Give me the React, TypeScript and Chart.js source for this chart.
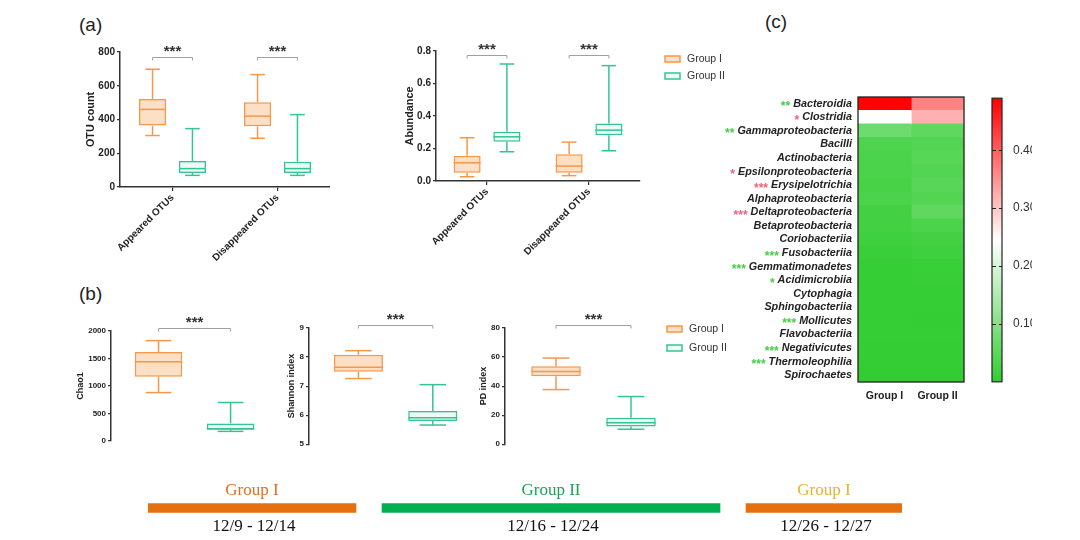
import React, { useEffect, useRef } from 'react';
import { Chart, registerables } from 'chart.js';

Chart.register(...registerables);

const SANS = '"Liberation Sans", Arial, sans-serif';
const SERIF = '"Liberation Serif", "Times New Roman", serif';
Chart.defaults.font.family = SANS;
Chart.defaults.color = '#222';

// ---------------- data ----------------
const groupNames = ['Group I', 'Group II'];

// panel (a): [min, q1, median, q3, max]
const otuCategories = ['Appeared OTUs', 'Disappeared OTUs'];
const otuGroupI = [[305, 364, 460, 522, 698], [289, 360, 420, 502, 666]];
const otuGroupII = [[69, 83, 109, 154, 346], [69, 83, 109, 150, 429]];
const otuSignificance = ['***', '***'];
const otuTicks = { min: 0, max: 800, step: 200 };

const abundanceGroupI = [[0.026, 0.051, 0.112, 0.155, 0.266], [0.033, 0.051, 0.092, 0.164, 0.239]];
const abundanceGroupII = [[0.18, 0.241, 0.272, 0.303, 0.72], [0.186, 0.281, 0.313, 0.354, 0.71]];
const abundanceSignificance = ['***', '***'];
const abundanceTicks = { min: 0, max: 0.8, step: 0.2 };

// panel (b): per group [min, q1, median, q3, max]
const chao1Stats = [[880, 1170, 1440, 1620, 1825], [175, 205, 225, 320, 700]];
const shannonStats = [[7.26, 7.49, 7.65, 8.08, 8.22], [5.66, 5.8, 5.91, 6.14, 7.05]];
const pdStats = [[37.6, 46.7, 50.1, 53.6, 59.3], [10.3, 12.1, 14.8, 18.2, 32.8]];
const alphaSignificance = '***';
const chao1Ticks = { min: 0, max: 2000, step: 500 };
const shannonTicks = { min: 5, max: 9, step: 1 };
const pdTicks = { min: 0, max: 80, step: 20 };

// panel (c): heatmap
const heatClasses = [
  'Bacteroidia', 'Clostridia', 'Gammaproteobacteria', 'Bacilli', 'Actinobacteria',
  'Epsilonproteobacteria', 'Erysipelotrichia', 'Alphaproteobacteria', 'Deltaproteobacteria',
  'Betaproteobacteria', 'Coriobacteriia', 'Fusobacteriia', 'Gemmatimonadetes', 'Acidimicrobiia',
  'Cytophagia', 'Sphingobacteriia', 'Mollicutes', 'Flavobacteriia', 'Negativicutes',
  'Thermoleophilia', 'Spirochaetes',
];
const heatGroupI = [0.488, 0.245, 0.07, 0.035, 0.03, 0.03, 0.025, 0.03, 0.02, 0.02, 0.015, 0.01, 0.005, 0.004, 0.004, 0.003, 0.003, 0.003, 0.002, 0.002, 0.001];
const heatGroupII = [0.365, 0.32, 0.055, 0.04, 0.045, 0.04, 0.045, 0.04, 0.055, 0.03, 0.02, 0.015, 0.008, 0.006, 0.004, 0.003, 0.002, 0.003, 0.002, 0.002, 0.001];
const heatStars = ['**', '*', '**', '', '', '*', '***', '', '***', '', '', '***', '***', '*', '', '', '***', '', '***', '***', ''];
const heatStarKind = ['g', 'r', 'g', '', '', 'r', 'r', '', 'r', '', '', 'g', 'g', 'g', '', '', 'g', '', 'g', 'g', ''];
const colorbarMax = 0.49;
const colorbarTicks = [0.1, 0.2, 0.3, 0.4];

// timeline
const periodNames = ['Group I', 'Group II', 'Group I'];
const periodDates = ['12/9 - 12/14', '12/16 - 12/24', '12/26 - 12/27'];
const periodSpans = [[0, 8], [9, 22], [23, 29]];

// ---------------- styles ----------------
const ORANGE = 'rgb(246,152,72)';
const ORANGE_FILL = 'rgba(250,196,150,0.55)';
const GREEN = 'rgb(52,196,148)';
const GREEN_FILL = 'rgba(225,247,238,0.6)';
const AXIS = '#333';
const TXT = '#222';
const periodBarColors = ['#E4700F', '#00B050', '#E4700F'];
const periodTextColors = ['#E07020', '#1FA055', '#E3B43A'];
const starColors: Record<string, string> = { g: '#48cc48', r: '#f0607a' };
const HEAT_LOW = [50, 205, 50];
const HEAT_MID = [255, 255, 255];
const HEAT_HIGH = [255, 0, 0];

function heatColor(v: number) {
  const mid = colorbarMax / 2;
  let a, b, t;
  if (v <= mid) { a = HEAT_LOW; b = HEAT_MID; t = v / mid; } else { a = HEAT_MID; b = HEAT_HIGH; t = (v - mid) / mid; }
  t = Math.max(0, Math.min(1, t));
  const c = a.map((x, i) => Math.round(x + (b[i] - x) * t));
  return `rgb(${c[0]},${c[1]},${c[2]})`;
}

// ---------------- plugins ----------------
const boxWhiskerPlugin = {
  id: 'boxWhisker',
  afterDatasetsDraw(chart: any) {
    const ctx = chart.ctx;
    const ys = chart.scales.y;
    const py = (v: number) => ys.getPixelForValue(v);
    chart.data.datasets.forEach((ds: any, di: number) => {
      if (!ds.stats) return;
      const meta = chart.getDatasetMeta(di);
      meta.data.forEach((el: any, j: number) => {
        const s = ds.stats[j];
        if (!s) return;
        const { x, width } = el.getProps(['x', 'width'], true);
        const color = Array.isArray(ds.borderColor) ? ds.borderColor[j] : ds.borderColor;
        const half = width / 2;
        const cap = width * 0.27;
        ctx.save();
        ctx.strokeStyle = color;
        ctx.lineWidth = 1.5;
        const line = (x1: number, y1: number, x2: number, y2: number) => {
          ctx.beginPath(); ctx.moveTo(x1, y1); ctx.lineTo(x2, y2); ctx.stroke();
        };
        line(x - half, py(s[2]), x + half, py(s[2]));
        line(x, py(s[3]), x, py(s[4]));
        line(x - cap, py(s[4]), x + cap, py(s[4]));
        line(x, py(s[1]), x, py(s[0]));
        line(x - cap, py(s[0]), x + cap, py(s[0]));
        ctx.restore();
      });
    });
  },
};

function makeBracketPlugin(level: number, items: { from: number[]; to: number[]; text: string }[]) {
  return {
    id: 'brackets',
    afterDatasetsDraw(chart: any) {
      const ctx = chart.ctx;
      const yb = Math.round(chart.scales.y.getPixelForValue(level)) + 0.5;
      items.forEach((it) => {
        const a = chart.getDatasetMeta(it.from[0]).data[it.from[1]];
        const b = chart.getDatasetMeta(it.to[0]).data[it.to[1]];
        if (!a || !b) return;
        const x1 = a.x, x2 = b.x;
        ctx.save();
        ctx.strokeStyle = '#a0a0a0';
        ctx.lineWidth = 1;
        ctx.beginPath();
        ctx.moveTo(x1, yb + 3); ctx.lineTo(x1, yb); ctx.lineTo(x2, yb); ctx.lineTo(x2, yb + 3);
        ctx.stroke();
        ctx.fillStyle = '#333';
        ctx.font = `bold 15px ${SANS}`;
        ctx.textAlign = 'center';
        ctx.textBaseline = 'alphabetic';
        ctx.fillText(it.text, (x1 + x2) / 2, yb - 1.5);
        ctx.restore();
      });
    },
  };
}

function makeLegendPlugin(dx: number, dy: number, gap: number) {
  const items = [
    { label: groupNames[0], fill: ORANGE_FILL, stroke: ORANGE },
    { label: groupNames[1], fill: GREEN_FILL, stroke: GREEN },
  ];
  return {
    id: 'boxLegend',
    afterDraw(chart: any) {
      const ctx = chart.ctx;
      const area = chart.chartArea;
      items.forEach((it, i) => {
        const x0 = area.right + dx;
        const yc = area.top + dy + i * gap;
        ctx.save();
        ctx.fillStyle = '#fff';
        ctx.fillRect(x0, yc - 3, 15, 6);
        ctx.fillStyle = it.fill;
        ctx.fillRect(x0, yc - 3, 15, 6);
        ctx.strokeStyle = it.stroke;
        ctx.lineWidth = 1.5;
        ctx.strokeRect(x0, yc - 3, 15, 6);
        ctx.fillStyle = '#333';
        ctx.font = `10.5px ${SANS}`;
        ctx.textAlign = 'left';
        ctx.textBaseline = 'middle';
        ctx.fillText(it.label, x0 + 22, yc);
        ctx.restore();
      });
    },
  };
}

const baseOptions = {
  responsive: false,
  animation: false,
  devicePixelRatio: 1,
  events: [],
};

function yAxis(t: { min: number; max: number; step: number }, title: string, width: number, tickSize: number, titleSize: number, fmt: (v: number) => string) {
  return {
    min: t.min,
    max: t.max,
    ticks: {
      stepSize: t.step,
      font: { size: tickSize, weight: 'bold' },
      color: TXT,
      padding: 2,
      callback: (v: any) => fmt(Number(v)),
    },
    grid: { drawOnChartArea: false, tickLength: 3, color: AXIS, lineWidth: 1.2 },
    border: { color: AXIS, width: 1.5 },
    title: { display: true, text: title, font: { size: titleSize, weight: 'bold' }, color: TXT, padding: 4 },
    afterFit: (s: any) => { s.width = width; },
  };
}

const plainNumber = (v: number) => String(v);

function groupedBoxConfig(p: any) {
  const mk = (label: string, stats: number[][], border: string, fill: string) => ({
    label,
    data: stats.map((s) => [s[1], s[3]]),
    stats,
    backgroundColor: fill,
    borderColor: border,
    borderWidth: 1.5,
    borderSkipped: false,
    barPercentage: 0.68,
    categoryPercentage: p.catPct,
  });
  const plugins: any[] = [
    boxWhiskerPlugin,
    makeBracketPlugin(p.bracketLevel, p.sig.map((t: string, j: number) => ({ from: [0, j], to: [1, j], text: t }))),
  ];
  if (p.legend) plugins.push(makeLegendPlugin(p.legend[0], p.legend[1], p.legend[2]));
  return {
    type: 'bar',
    data: {
      labels: p.categories,
      datasets: [mk(groupNames[0], p.g1, ORANGE, ORANGE_FILL), mk(groupNames[1], p.g2, GREEN, GREEN_FILL)],
    },
    options: {
      ...baseOptions,
      layout: { padding: p.padding },
      plugins: { legend: { display: false }, tooltip: { enabled: false } },
      scales: {
        x: {
          offset: true,
          grid: { offset: false, drawOnChartArea: false, tickLength: 4, color: AXIS, lineWidth: 1.2 },
          border: { color: AXIS, width: 1.5 },
          ticks: { minRotation: 45, maxRotation: 45, autoSkip: false, font: { size: 10, weight: 'bold' }, color: TXT, padding: 1 },
          afterFit: (s: any) => { s.height = p.xHeight; },
        },
        y: yAxis(p.ticks, p.title, p.yWidth, 10, 10.8, p.fmt || plainNumber),
      },
    },
    plugins,
  };
}

function singleBoxConfig(p: any) {
  const plugins: any[] = [
    boxWhiskerPlugin,
    makeBracketPlugin(p.bracketLevel, [{ from: [0, 0], to: [0, 1], text: alphaSignificance }]),
  ];
  if (p.legend) plugins.push(makeLegendPlugin(p.legend[0], p.legend[1], p.legend[2]));
  return {
    type: 'bar',
    data: {
      datasets: [{
        label: p.title,
        data: p.stats.map((s: number[], i: number) => ({ x: i + 1, y: [s[1], s[3]] })),
        stats: p.stats,
        backgroundColor: [ORANGE_FILL, GREEN_FILL],
        borderColor: [ORANGE, GREEN],
        borderWidth: 1.5,
        borderSkipped: false,
        barPercentage: 0.66,
        categoryPercentage: 1,
      }],
    },
    options: {
      ...baseOptions,
      layout: { padding: p.padding },
      plugins: { legend: { display: false }, tooltip: { enabled: false } },
      scales: {
        x: {
          type: 'linear',
          min: p.xMin,
          max: p.xMax,
          offset: false,
          grid: { offset: false },
          display: false,
          afterBuildTicks: (s: any) => { s.ticks = p.stats.map((_: any, i: number) => ({ value: i + 1 })); },
        },
        y: yAxis(p.ticks, p.title, p.yWidth, 8, 9, p.fmt || plainNumber),
      },
    },
    plugins,
  };
}

function heatmapConfig() {
  const cols = [heatGroupI, heatGroupII];
  const starPlugin = {
    id: 'heatStars',
    afterDraw(chart: any) {
      const ctx = chart.ctx;
      const ys = chart.scales.y;
      const area = chart.chartArea;
      ctx.save();
      ctx.strokeStyle = '#222';
      ctx.lineWidth = 1.3;
      ctx.strokeRect(area.left, area.top, area.right - area.left, area.bottom - area.top);
      heatClasses.forEach((name, i) => {
        if (!heatStars[i]) return;
        const yy = ys.getPixelForValue(i);
        ctx.font = `italic bold 10.8px ${SANS}`;
        const w = ctx.measureText(name).width;
        const x = ys.right - 6 - w - 3;
        ctx.font = `bold 12px ${SANS}`;
        ctx.fillStyle = starColors[heatStarKind[i]];
        ctx.textAlign = 'right';
        ctx.textBaseline = 'alphabetic';
        ctx.fillText(heatStars[i], x, yy + 6.5);
      });
      ctx.restore();
    },
  };
  return {
    type: 'bar',
    data: {
      labels: heatClasses,
      datasets: cols.map((vals, ci) => ({
        label: groupNames[ci],
        data: vals.map(() => [ci, ci + 1]),
        backgroundColor: vals.map(heatColor),
        borderWidth: 0,
        barPercentage: 1,
        categoryPercentage: 1,
        grouped: false,
        inflateAmount: 0.6,
      })),
    },
    options: {
      ...baseOptions,
      indexAxis: 'y',
      layout: { padding: { top: 17, right: 6, left: 0, bottom: 0 } },
      plugins: { legend: { display: false }, tooltip: { enabled: false } },
      scales: {
        x: {
          type: 'linear',
          min: 0,
          max: groupNames.length,
          grid: { display: false, drawTicks: false },
          border: { display: false },
          afterBuildTicks: (s: any) => { s.ticks = groupNames.map((_, i) => ({ value: i + 0.5 })); },
          ticks: { autoSkip: false, callback: (_v: any, i: number) => groupNames[i], font: { size: 10.5, weight: 'bold' }, color: TXT, padding: 8 },
          afterFit: (s: any) => { s.height = 28; },
        },
        y: {
          grid: { display: false, drawTicks: false },
          border: { display: false },
          ticks: { autoSkip: false, font: { size: 10.8, weight: 'bold', style: 'italic' }, color: TXT, padding: 6 },
          afterFit: (s: any) => { s.width = 138; },
        },
      },
    },
    plugins: [starPlugin],
  };
}

function colorbarConfig() {
  const framePlugin = {
    id: 'cbFrame',
    afterDatasetsDraw(chart: any) {
      const ctx = chart.ctx;
      const area = chart.chartArea;
      const ys = chart.scales.y;
      ctx.save();
      ctx.strokeStyle = '#222';
      ctx.lineWidth = 1.2;
      ctx.strokeRect(area.left, area.top, area.right - area.left, area.bottom - area.top);
      colorbarTicks.forEach((v) => {
        const y = Math.round(ys.getPixelForValue(v)) + 0.5;
        ctx.beginPath();
        ctx.moveTo(area.left, y); ctx.lineTo(area.left + 4, y);
        ctx.moveTo(area.right - 3, y); ctx.lineTo(area.right, y);
        ctx.stroke();
      });
      ctx.restore();
    },
  };
  return {
    type: 'bar',
    data: {
      labels: ['scale'],
      datasets: [{
        data: [[0, colorbarMax]],
        backgroundColor: (c: any) => {
          const chart = c.chart;
          if (!chart.chartArea) return heatColor(0);
          const ys = chart.scales.y;
          const g = chart.ctx.createLinearGradient(0, ys.getPixelForValue(0), 0, ys.getPixelForValue(colorbarMax));
          g.addColorStop(0, heatColor(0));
          g.addColorStop(0.5, heatColor(colorbarMax / 2));
          g.addColorStop(1, heatColor(colorbarMax));
          return g;
        },
        borderWidth: 0,
        barPercentage: 1,
        categoryPercentage: 1,
      }],
    },
    options: {
      ...baseOptions,
      layout: { padding: { top: 16, left: 7, right: 0, bottom: 18 } },
      plugins: { legend: { display: false }, tooltip: { enabled: false } },
      scales: {
        x: { display: false },
        y: {
          position: 'right',
          min: 0,
          max: colorbarMax,
          afterBuildTicks: (s: any) => { s.ticks = colorbarTicks.map((v) => ({ value: v })); },
          ticks: { autoSkip: false, callback: (v: any) => Number(v).toFixed(2), font: { size: 12 }, color: '#333', padding: 11 },
          grid: { display: false, drawTicks: false },
          border: { display: false },
          afterFit: (s: any) => { s.width = 30; },
        },
      },
    },
    plugins: [framePlugin],
  };
}

function timelineConfig() {
  const labelPlugin = {
    id: 'periodLabels',
    afterDatasetsDraw(chart: any) {
      const ctx = chart.ctx;
      ctx.save();
      ctx.font = `17px ${SERIF}`;
      ctx.textAlign = 'center';
      ctx.textBaseline = 'middle';
      chart.data.datasets.forEach((_ds: any, i: number) => {
        const el = chart.getDatasetMeta(i).data[0];
        if (!el) return;
        const { x, base, y } = el.getProps(['x', 'base', 'y'], true);
        const cx = (x + base) / 2;
        ctx.fillStyle = periodTextColors[i];
        ctx.fillText(periodNames[i], cx, y - 17);
        ctx.fillStyle = '#111';
        ctx.fillText(periodDates[i], cx + 2, y + 19);
      });
      ctx.restore();
    },
  };
  return {
    type: 'bar',
    data: {
      labels: ['period'],
      datasets: periodSpans.map((sp, i) => ({
        label: periodNames[i],
        data: [sp],
        backgroundColor: periodBarColors[i],
        borderWidth: 0,
        barThickness: 9,
        grouped: false,
      })),
    },
    options: {
      ...baseOptions,
      indexAxis: 'y',
      layout: { padding: { top: 18, bottom: 17, left: 0, right: 0 } },
      plugins: { legend: { display: false }, tooltip: { enabled: false } },
      scales: {
        x: { type: 'linear', min: periodSpans[0][0], max: periodSpans[periodSpans.length - 1][1], display: false },
        y: { display: false },
      },
    },
    plugins: [labelPlugin],
  };
}

// ---------------- components ----------------
function ChartBox({ left, top, width, height, make }: { left: number; top: number; width: number; height: number; make: () => any }) {
  const ref = useRef<HTMLCanvasElement>(null);
  useEffect(() => {
    const chart = new Chart(ref.current as HTMLCanvasElement, make());
    return () => chart.destroy();
  }, []);
  return (
    <canvas
      ref={ref}
      width={width}
      height={height}
      style={{ position: 'absolute', left, top, width, height }}
    />
  );
}

const panelLabel = (text: string, left: number, top: number) => (
  <div style={{ position: 'absolute', left, top, font: `19px ${SANS}`, lineHeight: '19px', color: '#222' }}>{text}</div>
);

export default function App() {
  return (
    <div style={{ position: 'fixed', left: 0, top: 0, width: 1080, height: 540, background: '#fff', overflow: 'hidden' }}>
      {panelLabel('(a)', 79, 15)}
      {panelLabel('(b)', 79, 284)}
      {panelLabel('(c)', 765, 12)}
      <ChartBox
        left={76} top={30} width={254} height={240}
        make={() => groupedBoxConfig({
          categories: otuCategories, g1: otuGroupI, g2: otuGroupII, ticks: otuTicks, title: 'OTU count',
          sig: otuSignificance, bracketLevel: 770, yWidth: 39, xHeight: 83, catPct: 0.76,
          padding: { left: 5, top: 22, right: 0, bottom: 0 },
        })}
      />
      <ChartBox
        left={395} top={30} width={335} height={240}
        make={() => groupedBoxConfig({
          categories: otuCategories, g1: abundanceGroupI, g2: abundanceGroupII, ticks: abundanceTicks, title: 'Abundance',
          sig: abundanceSignificance, bracketLevel: 0.774, yWidth: 36, xHeight: 89, catPct: 0.78,
          fmt: (v: number) => v.toFixed(1),
          padding: { left: 5, top: 21, right: 90, bottom: 0 },
          legend: [25, 8, 17],
        })}
      />
      <ChartBox
        left={66} top={300} width={197} height={151}
        make={() => singleBoxConfig({
          stats: chao1Stats, ticks: chao1Ticks, title: 'Chao1', bracketLevel: 2060, yWidth: 40,
          xMin: 0.34, xMax: 2.45, padding: { left: 5, top: 31, right: 0, bottom: 10 },
        })}
      />
      <ChartBox
        left={277} top={300} width={190} height={151}
        make={() => singleBoxConfig({
          stats: shannonStats, ticks: shannonTicks, title: 'Shannon index', bracketLevel: 9.1, yWidth: 27,
          xMin: 0.336, xMax: 2.46, padding: { left: 5, top: 28, right: 0, bottom: 6 },
        })}
      />
      <ChartBox
        left={469} top={300} width={277} height={151}
        make={() => singleBoxConfig({
          stats: pdStats, ticks: pdTicks, title: 'PD index', bracketLevel: 82, yWidth: 31,
          xMin: 0.32, xMax: 2.4, padding: { left: 5, top: 28, right: 85, bottom: 6 },
          legend: [6, 1, 19],
        })}
      />
      <ChartBox left={720} top={80} width={250} height={330} make={heatmapConfig} />
      <ChartBox left={985} top={80} width={47} height={320} make={colorbarConfig} />
      <ChartBox left={148} top={475} width={754} height={65} make={timelineConfig} />
    </div>
  );
}
